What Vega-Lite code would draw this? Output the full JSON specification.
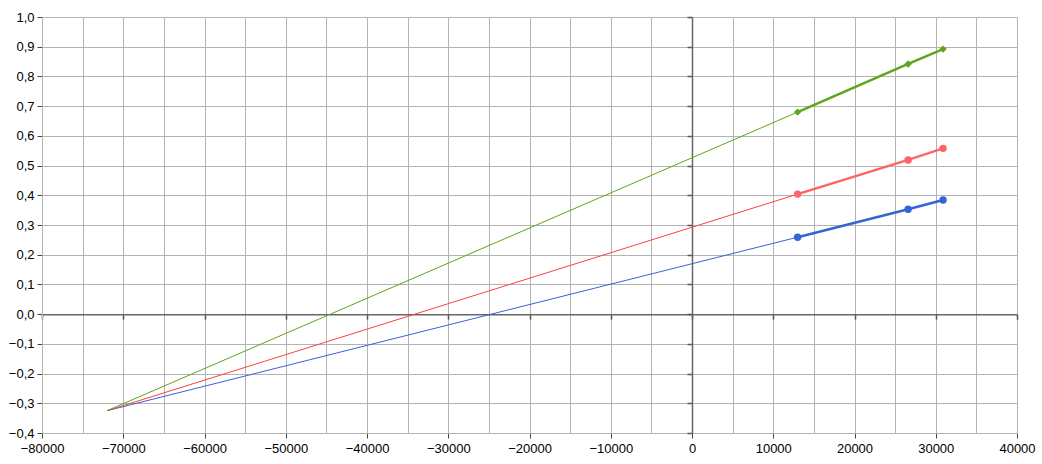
{
  "$schema": "https://vega.github.io/schema/vega-lite/v6.json",
  "width": 975,
  "height": 416,
  "autosize": {"type": "none"},
  "padding": {"left": 42, "top": 17, "right": 25, "bottom": 31},
  "background": "white",
  "config": {
    "view": {"stroke": null},
    "font": "Liberation Sans",
    "axis": {"labelFont": "Liberation Sans", "labelFontSize": 13, "labelColor": "#000000"}
  },
  "datasets": {
    "trend": [
      {"series": "C", "x": -72000, "y": -0.325},
      {"series": "C", "x": 13000, "y": 0.259},
      {"series": "B", "x": -72000, "y": -0.325},
      {"series": "B", "x": 13000, "y": 0.404},
      {"series": "A", "x": -72000, "y": -0.325},
      {"series": "A", "x": 13000, "y": 0.68}
    ],
    "pts": [
      {"series": "C", "x": 13000, "y": 0.259},
      {"series": "C", "x": 26600, "y": 0.353},
      {"series": "C", "x": 30900, "y": 0.384},
      {"series": "B", "x": 13000, "y": 0.404},
      {"series": "B", "x": 26600, "y": 0.519},
      {"series": "B", "x": 30900, "y": 0.558},
      {"series": "A", "x": 13000, "y": 0.68},
      {"series": "A", "x": 26600, "y": 0.842},
      {"series": "A", "x": 30900, "y": 0.892}
    ]
  },
  "layer": [
    {
      "data": {"name": "trend"},
      "mark": {"type": "line", "strokeWidth": 1},
      "encoding": {
        "x": {
          "field": "x", "type": "quantitative",
          "scale": {"domain": [-80000, 40000], "nice": false, "zero": false},
          "axis": {
            "orient": "bottom", "title": null,
            "values": [-80000, -75000, -70000, -65000, -60000, -55000, -50000, -45000, -40000, -35000, -30000, -25000, -20000, -15000, -10000, -5000, 0, 5000, 10000, 15000, 20000, 25000, 30000, 35000, 40000],
            "grid": true, "gridColor": "#b3b3b3", "gridWidth": 1,
            "domain": true, "domainColor": "#b3b3b3",
            "tickColor": "#444444", "tickSize": 5,
            "tickOpacity": {"condition": {"test": "datum.value % 10000 === 0", "value": 1}, "value": 0},
            "labelExpr": "datum.value % 10000 === 0 ? format(datum.value, 'd') : ''",
            "labelFlush": false, "labelOverlap": false, "labelBound": false, "labelPadding": 4
          }
        },
        "y": {
          "field": "y", "type": "quantitative",
          "scale": {"domain": [-0.4, 1.0], "nice": false, "zero": false},
          "axis": {
            "orient": "left", "title": null,
            "values": [-0.4, -0.3, -0.2, -0.1, 0, 0.1, 0.2, 0.3, 0.4, 0.5, 0.6, 0.7, 0.8, 0.9, 1.0],
            "grid": true, "gridColor": "#b3b3b3", "gridWidth": 1,
            "domain": true, "domainColor": "#b3b3b3",
            "tickColor": "#444444", "tickSize": 5,
            "labelExpr": "replace(format(datum.value, '.1f'), '.', ',')",
            "labelFlush": false, "labelOverlap": false, "labelPadding": 3
          }
        },
        "detail": {"field": "series"},
        "color": {"field": "series", "type": "nominal", "scale": {"domain": ["A", "B", "C"], "range": ["#5ea51e", "#ff3f3f", "#3465d4"]}, "legend": null}
      }
    },
    {
      "data": {"name": "pts"},
      "mark": {"type": "point", "opacity": 0},
      "encoding": {
        "x": {
          "field": "x", "type": "quantitative",
          "scale": {"domain": [-80000, 40000], "nice": false, "zero": false},
          "axis": {
            "orient": "bottom", "offset": -118.86, "title": null,
            "values": [-80000, -70000, -60000, -50000, -40000, -30000, -20000, -10000, 0, 10000, 20000, 30000, 40000],
            "grid": false, "labels": false,
            "domain": true, "domainColor": "#666666", "domainWidth": 1.5,
            "tickColor": "#555555", "tickSize": 5, "tickWidth": 1.5
          }
        },
        "y": {
          "field": "y", "type": "quantitative",
          "scale": {"domain": [-0.4, 1.0], "nice": false, "zero": false},
          "axis": {
            "orient": "left", "offset": -650, "title": null,
            "values": [-0.4, -0.3, -0.2, -0.1, 0, 0.1, 0.2, 0.3, 0.4, 0.5, 0.6, 0.7, 0.8, 0.9, 1.0],
            "grid": false, "labels": false,
            "domain": true, "domainColor": "#666666", "domainWidth": 1.5,
            "tickColor": "#555555", "tickSize": 5, "tickWidth": 1.5
          }
        }
      }
    },
    {
      "data": {"name": "pts"},
      "mark": {"type": "line", "strokeWidth": 2.5},
      "encoding": {
        "x": {"field": "x", "type": "quantitative", "scale": {"domain": [-80000, 40000], "nice": false, "zero": false}, "axis": null},
        "y": {"field": "y", "type": "quantitative", "scale": {"domain": [-0.4, 1.0], "nice": false, "zero": false}, "axis": null},
        "detail": {"field": "series"},
        "color": {"field": "series", "type": "nominal", "scale": {"domain": ["A", "B", "C"], "range": ["#5ea51e", "#ff6464", "#3465d4"]}, "legend": null}
      }
    },
    {
      "data": {"name": "pts"},
      "mark": {"type": "point", "filled": true, "opacity": 1, "size": 55},
      "encoding": {
        "x": {"field": "x", "type": "quantitative", "scale": {"domain": [-80000, 40000], "nice": false, "zero": false}, "axis": null},
        "y": {"field": "y", "type": "quantitative", "scale": {"domain": [-0.4, 1.0], "nice": false, "zero": false}, "axis": null},
        "shape": {"field": "series", "type": "nominal", "scale": {"domain": ["A", "B", "C"], "range": ["diamond", "circle", "circle"]}, "legend": null},
        "color": {"field": "series", "type": "nominal", "scale": {"domain": ["A", "B", "C"], "range": ["#5ea51e", "#ff6464", "#3465d4"]}, "legend": null}
      }
    }
  ],
  "resolve": {
    "scale": {"x": "independent", "y": "independent", "color": "independent"},
    "axis": {"x": "independent", "y": "independent"}
  }
}
